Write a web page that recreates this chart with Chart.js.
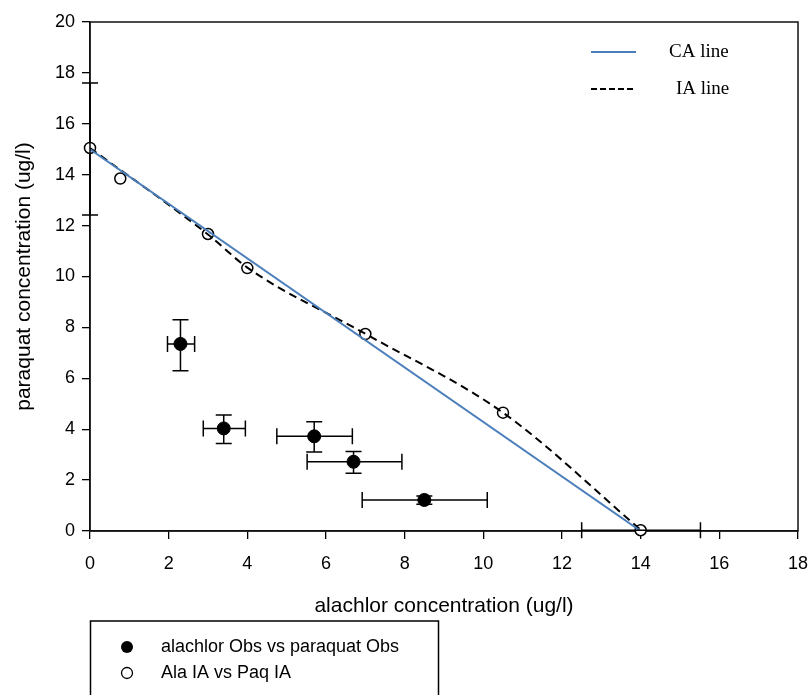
<!DOCTYPE html>
<html>
<head>
<meta charset="utf-8">
<script src="https://cdn.jsdelivr.net/npm/chart.js@4.4.1/dist/chart.umd.min.js"></script>
<style>
  body { margin: 0; background: #fff; }
  canvas { display: block; }
</style>
</head>
<body>
<canvas id="isoboleChart" width="811" height="695"></canvas>
<script>
// observed mixture points (alachlor vs paraquat) with x / y error ranges
const obsX = [2.3, 3.4, 5.7, 6.7, 8.5];
const obsY = [7.35, 4.03, 3.72, 2.72, 1.22];
const obsXLow = [1.97, 2.88, 4.75, 5.52, 6.92];
const obsXHigh = [2.66, 3.95, 6.67, 7.93, 10.1];
const obsYLow = [6.3, 3.44, 3.1, 2.27, 1.05];
const obsYHigh = [8.3, 4.56, 4.29, 3.12, 1.38];

// IA predicted points, only the single-compound ends carry error ranges
const iaX = [0, 0.77, 3, 4, 7, 10.5, 14];
const iaY = [15.05, 13.85, 11.67, 10.33, 7.74, 4.65, 0.03];
const iaXLow = [null, null, null, null, null, null, 12.5];
const iaXHigh = [null, null, null, null, null, null, 15.52];
const iaYLow = [12.42, null, null, null, null, null, null];
const iaYHigh = [17.6, null, null, null, null, null, null];

// CA straight line and the IA curve
const caX = [0, 14];
const caY = [15, 0];
const iaLineX = [0, 3, 4, 7, 10.5, 14];
const iaLineY = [15.05, 11.65, 10.35, 7.75, 4.65, 0.05];

const xTicks = [0, 2, 4, 6, 8, 10, 12, 14, 16, 18];
const yTicks = [0, 2, 4, 6, 8, 10, 12, 14, 16, 18, 20];

const SANS = "'Liberation Sans', Arial, sans-serif";
const SERIF = "'Liberation Serif', 'Times New Roman', serif";

const toPoints = (xs, ys) => xs.map((v, i) => ({ x: v, y: ys[i] }));

/* error bars with caps */
const errorBars = {
  id: 'errorBars',
  afterDatasetsDraw(chart) {
    const { ctx, scales: { x, y } } = chart;
    const cap = 8;
    ctx.save();
    ctx.strokeStyle = '#000';
    ctx.lineWidth = 1.5;

    function hBar(x1, x2, yv) {
      const a = x.getPixelForValue(x1), b = x.getPixelForValue(x2), py = y.getPixelForValue(yv);
      ctx.beginPath();
      ctx.moveTo(a, py); ctx.lineTo(b, py);
      ctx.moveTo(a, py - cap); ctx.lineTo(a, py + cap);
      ctx.moveTo(b, py - cap); ctx.lineTo(b, py + cap);
      ctx.stroke();
    }
    function vBar(y1, y2, xv) {
      const a = y.getPixelForValue(y1), b = y.getPixelForValue(y2), px = x.getPixelForValue(xv);
      ctx.beginPath();
      ctx.moveTo(px, a); ctx.lineTo(px, b);
      ctx.moveTo(px - cap, a); ctx.lineTo(px + cap, a);
      ctx.moveTo(px - cap, b); ctx.lineTo(px + cap, b);
      ctx.stroke();
    }

    obsX.forEach((xv, i) => {
      hBar(obsXLow[i], obsXHigh[i], obsY[i]);
      vBar(obsYLow[i], obsYHigh[i], xv);
    });
    iaX.forEach((xv, i) => {
      if (iaXLow[i] !== null) hBar(iaXLow[i], iaXHigh[i], iaY[i]);
      if (iaYLow[i] !== null) vBar(iaYLow[i], iaYHigh[i], xv);
    });
    ctx.restore();
  }
};

/* box round the plot, axis titles and both legends */
const decorations = {
  id: 'decorations',
  beforeDatasetsDraw(chart) {
    const { ctx, chartArea: a } = chart;
    ctx.save();
    ctx.strokeStyle = '#111';
    ctx.lineWidth = 1.5;
    ctx.strokeRect(a.left, a.top, a.right - a.left, a.bottom - a.top);
    ctx.restore();
  },
  afterDraw(chart) {
    const { ctx, chartArea: a } = chart;
    ctx.save();
    ctx.fillStyle = '#000';

    // axis titles
    ctx.font = '21px ' + SANS;
    ctx.textAlign = 'center';
    ctx.textBaseline = 'middle';
    ctx.fillText('alachlor concentration (ug/l)', (a.left + a.right) / 2, 606);
    ctx.save();
    ctx.translate(24, (a.top + a.bottom) / 2);
    ctx.rotate(-Math.PI / 2);
    ctx.fillText('paraquat concentration (ug/l)', 0, 0);
    ctx.restore();

    // line legend, top right
    ctx.lineWidth = 2;
    ctx.strokeStyle = '#4a7ebb';
    ctx.beginPath(); ctx.moveTo(591, 52); ctx.lineTo(636, 52); ctx.stroke();
    ctx.strokeStyle = '#000';
    ctx.setLineDash([6, 3]);
    ctx.beginPath(); ctx.moveTo(591, 89); ctx.lineTo(636, 89); ctx.stroke();
    ctx.setLineDash([]);
    ctx.font = '19px ' + SERIF;
    ctx.textAlign = 'left';
    ctx.fillText('CA line', 669, 52);
    ctx.fillText('IA line', 676, 89);

    // symbol legend, below the axis
    ctx.lineWidth = 1.5;
    ctx.strokeStyle = '#000';
    ctx.strokeRect(90.5, 621, 348, 90);
    ctx.beginPath(); ctx.arc(127, 647, 6, 0, Math.PI * 2); ctx.fill();
    ctx.lineWidth = 1.3;
    ctx.beginPath(); ctx.arc(127, 673, 5.5, 0, Math.PI * 2); ctx.stroke();
    ctx.font = '18px ' + SANS;
    ctx.fillText('alachlor Obs vs paraquat Obs', 161, 647);
    ctx.fillText('Ala IA vs Paq IA', 161, 673);
    ctx.restore();
  }
};

const ctx = document.getElementById('isoboleChart').getContext('2d');
const chart = new Chart(ctx, {
  type: 'scatter',
  data: {
    datasets: [
      {
        label: 'alachlor Obs vs paraquat Obs',
        data: toPoints(obsX, obsY),
        backgroundColor: '#000',
        borderColor: '#000',
        pointRadius: 6.5,
        order: 0
      },
      {
        label: 'CA line',
        data: toPoints(caX, caY),
        showLine: true,
        borderColor: '#4a7ebb',
        borderWidth: 2,
        pointRadius: 0,
        order: 1
      },
      {
        label: 'IA line',
        data: toPoints(iaLineX, iaLineY),
        showLine: true,
        borderColor: '#000',
        borderWidth: 2,
        borderDash: [8, 5],
        cubicInterpolationMode: 'monotone',
        pointRadius: 0,
        order: 2
      },
      {
        label: 'Ala IA vs Paq IA',
        data: toPoints(iaX, iaY),
        backgroundColor: '#fff',
        borderColor: '#000',
        borderWidth: 1.5,
        pointRadius: 5.5,
        clip: false,
        order: 3
      }
    ]
  },
  options: {
    responsive: false,
    animation: false,
    layout: { padding: { top: 22, right: 13, left: 0, bottom: 0 } },
    plugins: {
      legend: { display: false },
      tooltip: { enabled: false }
    },
    scales: {
      x: {
        type: 'linear',
        min: 0,
        max: 18,
        afterBuildTicks: s => { s.ticks = xTicks.map(v => ({ value: v })); },
        afterFit: s => { s.height = 164; s.paddingRight = 0; s.paddingLeft = 0; },
        grid: { drawOnChartArea: false, drawTicks: true, tickLength: 8, color: '#000', lineWidth: 1.3 },
        border: { display: true, color: '#111', width: 1.5 },
        ticks: { color: '#000', font: { family: SANS, size: 18 }, padding: 14, maxRotation: 0 }
      },
      y: {
        type: 'linear',
        min: 0,
        max: 20,
        afterBuildTicks: s => { s.ticks = yTicks.map(v => ({ value: v })); },
        afterFit: s => { s.width = 90; s.paddingTop = 0; s.paddingBottom = 0; },
        grid: { drawOnChartArea: false, drawTicks: true, tickLength: 8, color: '#000', lineWidth: 1.3 },
        border: { display: true, color: '#111', width: 1.5 },
        ticks: { color: '#000', font: { family: SANS, size: 18 }, padding: 7 }
      }
    }
  },
  plugins: [errorBars, decorations]
});
</script>
</body>
</html>
